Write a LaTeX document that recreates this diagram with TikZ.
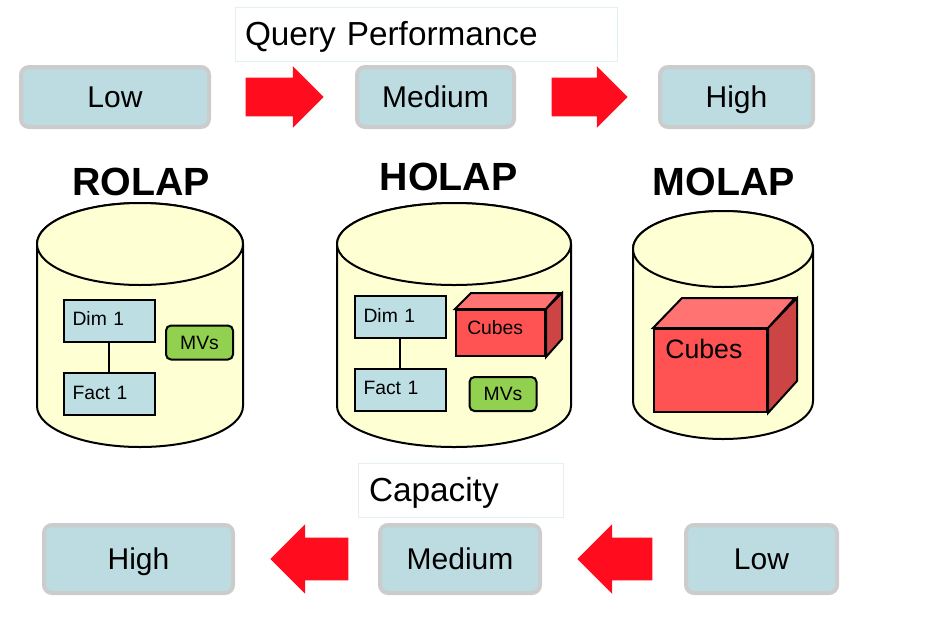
\documentclass[tikz,border=0pt]{standalone}
\usepackage{fontspec}
\setmainfont{Liberation Sans}
\usetikzlibrary{shapes.arrows,positioning}

\newlength\px
\setlength\px{0.75pt}

\definecolor{lvlfill}{HTML}{BDDCE1}
\definecolor{lvlline}{HTML}{CCCCCC}
\definecolor{titleline}{HTML}{E2F0F2}
\definecolor{arrowred}{HTML}{FF0D1F}
\definecolor{cylfill}{HTML}{FFFFD4}
\definecolor{tblfill}{HTML}{BDDFE3}
\definecolor{mvfill}{HTML}{92D050}
\definecolor{cubefill}{HTML}{FF5252}
\definecolor{cubetop}{HTML}{FF7373}
\definecolor{cubeside}{HTML}{CC4444}

\tikzset{
  lvl/.style={draw=lvlline, fill=lvlfill, line width=4\px, rounded corners=8\px,
    inner sep=0pt, minimum height=60\px, text height=16.1pt, text depth=0pt,
    font=\fontsize{22.5pt}{27pt}\selectfont},
  titlebox/.style={draw=titleline, fill=white, line width=1\px, inner xsep=10\px,
    inner ysep=0pt, align=left, minimum height=54\px, text height=17.9pt,
    text depth=0pt, font=\fontsize{25pt}{30pt}\selectfont},
  fwdarrow/.style={single arrow, fill=arrowred, draw=none, inner xsep=0pt,
    inner ysep=19\px, text height=0pt, text depth=0pt, anchor=tip,
    minimum height=78\px, single arrow head extend=11.5\px},
  backarrow/.style={fwdarrow, shape border rotate=180, inner ysep=21\px,
    single arrow head extend=13.5\px},
  dbtitle/.style={inner sep=0pt, text height=21.1pt, text depth=0pt,
    font=\fontsize{29.5pt}{35pt}\selectfont\bfseries},
  cyl/.style={draw=black, fill=cylfill, line width=2\px},
  tbl/.style={draw, fill=tblfill, line width=2\px, minimum height=42\px,
    text width=73\px, inner xsep=9\px, align=left, text height=10.4pt,
    text depth=2.9pt, font=\fontsize{14.5pt}{17pt}\selectfont},
  mv/.style={draw, fill=mvfill, line width=2\px, rounded corners=5\px,
    inner sep=0pt, minimum width=67\px, minimum height=34\px,
    text height=10.4pt, text depth=0pt, font=\fontsize{14.5pt}{17pt}\selectfont},
  link/.style={line width=2\px},
  cubeface/.style={draw, fill=cubefill, line width=2\px, inner sep=0pt},
  cubelbl/.style={inner sep=0pt, anchor=west, text height=10.4pt, text depth=0pt,
    font=\fontsize{14.5pt}{17pt}\selectfont}
}

\begin{document}
\begin{tikzpicture}[x=\px, y=-\px]
  \useasboundingbox (0,0) rectangle (952,618);

  % query performance
  \node[titlebox, text width=362\px] (qtitle) at (426,34) {Query Performance};
  \node[lvl, minimum width=188\px] (qlow) at (115,97) {Low};
  \node[lvl, minimum width=157\px] (qmed) at (435.5,97) {Medium};
  \node[lvl, minimum width=153\px] (qhigh) at (736.5,97) {High};
  \node[fwdarrow] (qarr1) at (324,97) {};
  \node[fwdarrow, minimum height=76\px] (qarr2) at (628,97) {};

  % databases
  \foreach \cx/\rx/\ya/\yb/\ry in {140/103/244/406/41, 454/117/244/406/41, 723/90/249/401/38} {
    \filldraw[cyl] (\cx-\rx,\ya) -- (\cx-\rx,\yb)
      arc[start angle=180, end angle=0, x radius=\rx, y radius=\ry]
      -- (\cx+\rx,\ya)
      arc[start angle=0, end angle=-180, x radius=\rx, y radius=\ry] -- cycle;
    \draw[cyl] (\cx,\ya) ellipse[x radius=\rx, y radius=\ry];
  }
  \node[dbtitle] (rtitle) at (141,181.5) {ROLAP};
  \node[dbtitle] (htitle) at (448.5,176) {HOLAP};
  \node[dbtitle] (mtitle) at (724,181.5) {MOLAP};

  % rolap
  \node[tbl] (rdim) at (109,320.5) {Dim 1};
  \node[tbl] (rfact) at (109,394) {Fact 1};
  \draw[link] (rdim) -- (rfact);
  \node[mv] (rmv) at (199.5,342.5) {MVs};

  % holap
  \node[tbl] (hdim) at (400,317) {Dim 1};
  \node[tbl] (hfact) at (400,389.5) {Fact 1};
  \draw[link] (hdim) -- (hfact);
  \node[mv] (hmv) at (503,394) {MVs};
  \node[cubeface, minimum width=89\px, minimum height=46\px] (hcube) at (500.5,333) {};
  \filldraw[cubeface, fill=cubetop] (hcube.north west) -- ++(16,-16) -- ++(89,0)
    -- (hcube.north east) -- cycle;
  \filldraw[cubeface, fill=cubeside] (hcube.north east) -- ++(16,-16) -- ++(0,46)
    -- (hcube.south east) -- cycle;
  \node[cubelbl] (hcubetxt) at (467,327.5) {Cubes};

  % molap
  \node[cubeface, minimum width=113\px, minimum height=83\px] (mcube) at (710.5,370.5) {};
  \filldraw[cubeface, fill=cubetop] (mcube.north west) -- ++(29,-30) -- ++(113,0)
    -- (mcube.north east) -- cycle;
  \filldraw[cubeface, fill=cubeside] (mcube.north east) -- ++(29,-30) -- ++(0,83)
    -- (mcube.south east) -- cycle;
  \node[cubelbl, text height=14.3pt, font=\fontsize{20pt}{24pt}\selectfont] (mcubetxt)
    at (665,348.5) {Cubes};

  % capacity
  \node[titlebox, inner xsep=11\px, text width=183\px] (ctitle) at (460.5,490) {Capacity};
  \node[lvl, minimum width=189\px, minimum height=68\px] (chigh) at (138.5,559) {High};
  \node[lvl, minimum width=160\px, minimum height=68\px] (cmed) at (460,559) {Medium};
  \node[lvl, minimum width=151\px, minimum height=68\px] (clow) at (761.5,559) {Low};
  \node[backarrow] (carr1) at (270,559) {};
  \node[backarrow, minimum height=75\px] (carr2) at (577,559) {};
\end{tikzpicture}
\end{document}
